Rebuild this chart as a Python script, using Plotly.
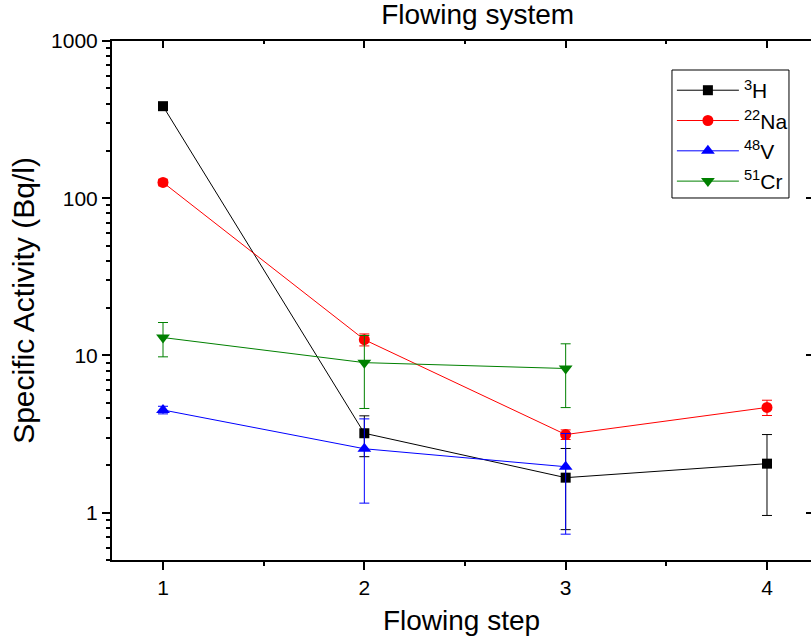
import plotly.graph_objects as go

# Flowing step index
steps = [1, 2, 3, 4]

# Specific activity (Bq/l) and its uncertainty for each nuclide
h3_vals = [385, 3.2, 1.67, 2.05]
h3_err = [15, 0.93, 0.89, 1.09]

na22_steps = [1, 2, 3, 4]
na22_vals = [126, 12.6, 3.14, 4.67]
na22_err = [6, 1.1, 0.22, 0.52]

v48_steps = [1, 2, 3]
v48_vals = [4.5, 2.55, 1.96]
v48_err = [0.25, 1.4, 1.23]

cr51_steps = [1, 2, 3]
cr51_vals = [13.0, 9.0, 8.26]
cr51_err = [3.2, 4.4, 3.6]

series = [
    ("<sup>3</sup>H", steps, h3_vals, h3_err, "black", "square", 10),
    ("<sup>22</sup>Na", na22_steps, na22_vals, na22_err, "red", "circle", 11),
    ("<sup>48</sup>V", v48_steps, v48_vals, v48_err, "blue", "triangle-up", 12),
    ("<sup>51</sup>Cr", cr51_steps, cr51_vals, cr51_err, "green", "triangle-down", 12),
]

FONT = "Liberation Sans, Arial, sans-serif"
XR = [0.7467, 4.2186]
YR = [-0.301, 3.0]
y_minor = [v * 10 ** d for d in range(-1, 3) for v in range(2, 10) if 0.5 <= v * 10 ** d <= 1000]

fig = go.Figure()
for name, xs, ys, es, col, sym, sz in series:
    fig.add_trace(go.Scatter(
        x=xs, y=ys, name=name, mode="lines+markers",
        line=dict(color=col, width=1),
        marker=dict(symbol=sym, size=sz, color=col),
        error_y=dict(type="data", array=es, visible=True, color=col,
                     thickness=1, width=5),
    ))

# helper trace so the mirrored top/right axes are drawn
fig.add_trace(go.Scatter(x=[None], y=[None], xaxis="x2", yaxis="y2",
                         showlegend=False, hoverinfo="skip"))

axis_font = dict(family=FONT, size=21, color="black")

# framed white panel behind the legend entries
fig.add_shape(type="rect", xref="paper", yref="paper",
              x0=0.8011, x1=0.9685, y0=0.6975, y1=0.9441,
              fillcolor="white", line=dict(color="black", width=1),
              layer="above")

fig.update_layout(
    width=811, height=643,
    margin=dict(l=112, r=0, t=41, b=83),
    paper_bgcolor="white", plot_bgcolor="white",
    font=dict(family=FONT, color="black"),
    title=dict(text="Flowing system", x=0.589, xanchor="center",
               y=1 - 14 / 643, yanchor="middle",
               font=dict(family=FONT, size=28, color="black")),
    showlegend=True,
    legend=dict(x=0.801, y=0.944, xanchor="left", yanchor="top",
                bgcolor="rgba(0,0,0,0)", borderwidth=0,
                font=dict(family=FONT, size=21, color="black"),
                tracegroupgap=0, itemwidth=62),
    xaxis=dict(
        range=XR, showgrid=False, zeroline=False,
        showline=True, linecolor="black", linewidth=2,
        ticks="outside", ticklen=8, tickwidth=2, tickcolor="black",
        tickvals=steps, ticktext=[str(s) for s in steps],
        tickfont=axis_font,
        minor=dict(tickmode="array", tickvals=[1.5, 2.5, 3.5],
                   ticks="outside", ticklen=4, tickwidth=2, tickcolor="black",
                   showgrid=False),
        title=dict(text="Flowing step", standoff=12,
                   font=dict(family=FONT, size=28, color="black")),
    ),
    yaxis=dict(
        type="log", range=YR, showgrid=False, zeroline=False,
        showline=True, linecolor="black", linewidth=2,
        ticks="outside", ticklen=8, tickwidth=2, tickcolor="black",
        tickvals=[1, 10, 100, 1000], ticktext=["1", "10", "100", "1000"],
        tickfont=axis_font,
        minor=dict(tickmode="array", tickvals=y_minor,
                   ticks="outside", ticklen=4, tickwidth=2, tickcolor="black",
                   showgrid=False),
        title=dict(text="Specific Activity (Bq/l)", standoff=8,
                   font=dict(family=FONT, size=30, color="black")),
    ),
    xaxis2=dict(
        overlaying="x", side="top", anchor="y2", range=XR,
        showgrid=False, zeroline=False,
        showline=True, linecolor="black", linewidth=2,
        ticks="inside", ticklen=7, tickwidth=2, tickcolor="black",
        tickvals=steps, showticklabels=False,
        minor=dict(tickmode="array", tickvals=[1.5, 2.5, 3.5],
                   ticks="inside", ticklen=3, tickwidth=2, tickcolor="black",
                   showgrid=False),
    ),
    yaxis2=dict(
        overlaying="y", side="right", anchor="x2", type="log", range=YR,
        showgrid=False, zeroline=False, showline=False,
        ticks="inside", ticklen=5, tickwidth=2, tickcolor="black",
        tickvals=[1, 10, 100], showticklabels=False,
    ),
)

fig.write_html("out.html")
